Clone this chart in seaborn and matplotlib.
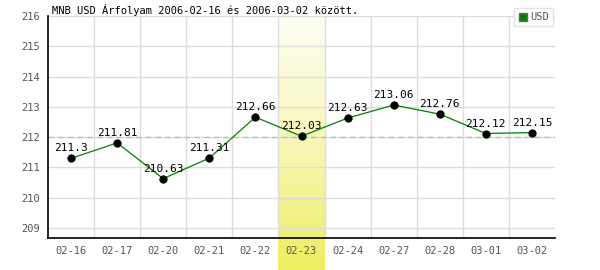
import matplotlib
matplotlib.use("Agg")
import matplotlib.pyplot as plt
import seaborn as sns
import numpy as np
import pandas as pd
from matplotlib.lines import Line2D
from matplotlib.colors import LinearSegmentedColormap

dates = ["02-16", "02-17", "02-20", "02-21", "02-22", "02-23", "02-24", "02-27", "02-28", "03-01", "03-02"]
usd = [211.3, 211.81, 210.63, 211.31, 212.66, 212.03, 212.63, 213.06, 212.76, 212.12, 212.15]
value_labels = ["211.3", "211.81", "210.63", "211.31", "212.66", "212.03", "212.63", "213.06", "212.76", "212.12", "212.15"]
y_ticks = [209, 210, 211, 212, 213, 214, 215, 216]
reference_level = 212
highlight = "02-23"
title = "MNB USD Árfolyam 2006-02-16 és 2006-03-02 között."

sns.set_style("white")
plt.rcParams['font.family'] = ['DejaVu Sans Mono', 'DejaVu Sans']

fig = plt.figure(figsize=(6, 2.7), dpi=100)
ax = fig.add_axes([48/600, 1-238/270, (555-48)/600, (238-16)/270])

df = pd.DataFrame({"date": dates, "usd": usd})
df["pos"] = np.arange(len(dates))

ylo, yhi = 208.67, 216.0

# highlight band gradient
hi = dates.index(highlight)
px_per_unit = (238 - 16) / (yhi - ylo)
band_bottom = yhi - (270 - 16) / px_per_unit
grad = np.linspace(0, 1, 256).reshape(-1, 1)
cmap = LinearSegmentedColormap.from_list("band", ["#fefef4", "#f7f7b8", "#eeee60"])
ax.imshow(grad, cmap=cmap, aspect="auto", extent=(hi - 0.5, hi + 0.5, band_bottom, yhi),
          origin="upper", clip_on=False, zorder=0, interpolation="bilinear")
ax.set_ylim(ylo, yhi)
ax.set_xlim(-0.5, len(dates) - 0.5)

# grid
for b in np.arange(0.5, len(dates) - 0.5, 1):
    ax.axvline(b, color="#dddddd", lw=1, zorder=1)
for t in y_ticks:
    ax.axhline(t, color="#dddddd", lw=1, zorder=1)

ax.axhline(reference_level, color="#99d699", lw=1, ls=(0, (4, 3)), zorder=2)

sns.lineplot(data=df, x="pos", y="usd", ax=ax, color="#008000", lw=0.9, zorder=3,
             marker="o", markersize=5.2, markerfacecolor="black", markeredgecolor="black",
             legend=False)

for x, y, s in zip(df["pos"], usd, value_labels):
    ax.annotate(s, (x, y), xytext=(0, 3.5), textcoords="offset points", ha="center",
                va="bottom", fontsize=8, color="black", zorder=4)

ax.set_xticks(df["pos"])
ax.set_xticklabels(dates)
ax.set_yticks(y_ticks)
ax.tick_params(axis="both", labelsize=7.5, colors="#555555", length=0, pad=6)
ax.set_xlabel("")
ax.set_ylabel("")
for s in ["top", "right"]:
    ax.spines[s].set_visible(False)
for s in ["left", "bottom"]:
    ax.spines[s].set_color("black")
    ax.spines[s].set_linewidth(1.2)

fig.text(52/600, 1-10/270, title, fontsize=7.5, color="black", va="center", ha="left")

handle = Line2D([], [], marker="s", color="none", markerfacecolor="#008000",
                markeredgecolor="#666666", markersize=6, label="USD")
leg = ax.legend(handles=[handle], loc="upper right", bbox_to_anchor=(553/600, 1-8/270),
                bbox_transform=fig.transFigure, fontsize=7.5, frameon=True, fancybox=False,
                handlelength=0.8, handletextpad=0.3, borderpad=0.4, borderaxespad=0)
leg.get_frame().set_edgecolor("#dddddd")
leg.get_frame().set_linewidth(1)
for t in leg.get_texts():
    t.set_color("#555555")

fig.savefig("out.png", dpi=100)
